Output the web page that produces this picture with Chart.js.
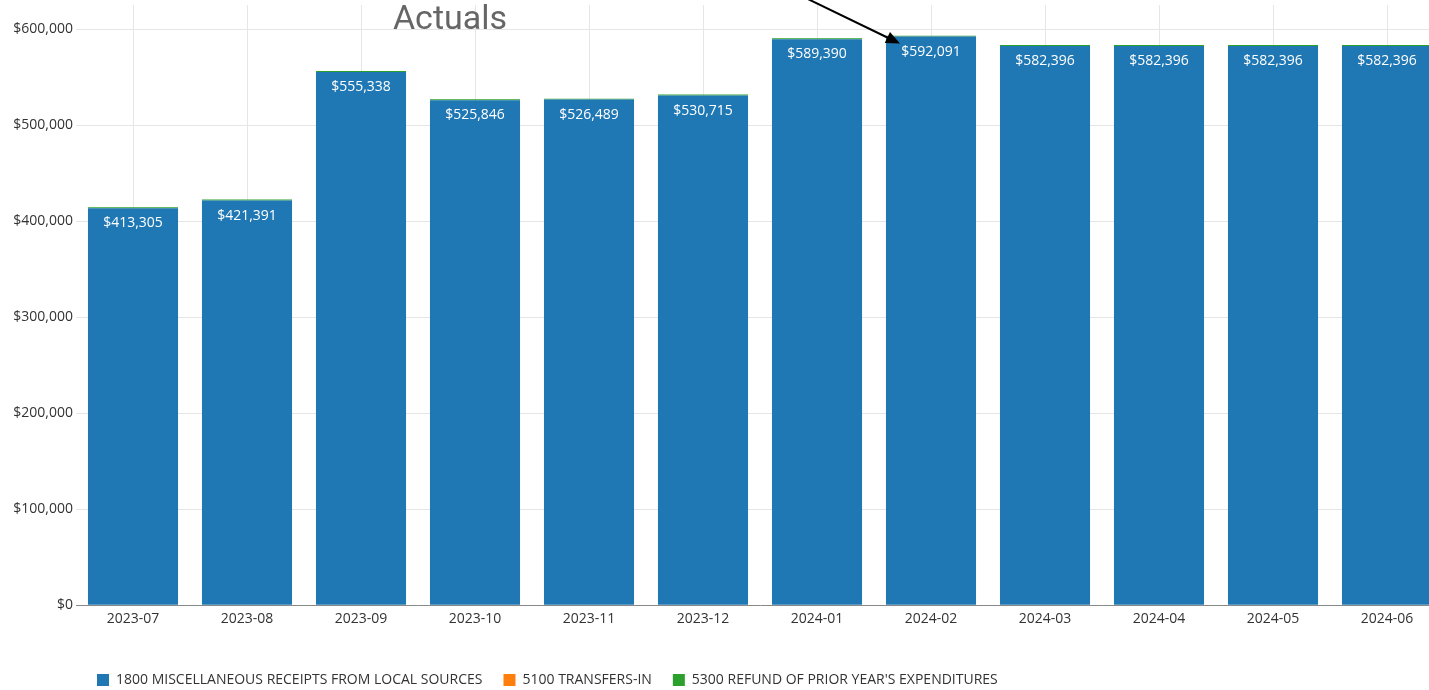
<!DOCTYPE html>
<html>
<head>
<meta charset="utf-8">
<script src="https://cdn.jsdelivr.net/npm/chart.js@4"></script>
<style>
  html, body { margin: 0; padding: 0; background: #fff; overflow: hidden; }
  #wrap { width: 1450px; height: 690px; position: relative; }
</style>
</head>
<body>
<div id="wrap"><canvas id="myChart"></canvas></div>
<script>
const months = ['2023-07', '2023-08', '2023-09', '2023-10', '2023-11', '2023-12',
                '2024-01', '2024-02', '2024-03', '2024-04', '2024-05', '2024-06'];
const miscReceipts = [413305, 421391, 555338, 525846, 526489, 530715,
                      589390, 592091, 582396, 582396, 582396, 582396];
const transfersIn = [0, 0, 0, 0, 0, 0, 0, 0, 0, 0, 0, 0];
const refunds = [1000, 1000, 1000, 1000, 1000, 1000, 1000, 1000, 1000, 1000, 1000, 1000];
const yTicks = [0, 100000, 200000, 300000, 400000, 500000, 600000];
const annotationText = 'Actuals';
const arrowTarget = 7; // index of 2024-02

function money(v) {
    return '$' + v.toLocaleString('en-US');
}

// white value labels inside the top of the blue bars
const barLabels = {
    id: 'barLabels',
    afterDatasetsDraw(chart) {
        const ctx = chart.ctx;
        const meta = chart.getDatasetMeta(0);
        ctx.save();
        ctx.font = '14px "Open Sans"';
        ctx.fillStyle = '#ffffff';
        ctx.textAlign = 'center';
        ctx.textBaseline = 'middle';
        meta.data.forEach((bar, i) => {
            ctx.fillText(money(miscReceipts[i]), bar.x, bar.y + 15);
        });
        ctx.restore();
    }
};

// "Actuals" note with arrow pointing at 2024-02
const actualsNote = {
    id: 'actualsNote',
    afterDraw(chart) {
        const ctx = chart.ctx;
        const x = chart.scales.x;
        const bar = chart.getDatasetMeta(0).data[arrowTarget];
        ctx.save();
        ctx.font = '34px Roboto';
        ctx.fillStyle = '#666666';
        ctx.textAlign = 'center';
        ctx.textBaseline = 'middle';
        ctx.fillText(annotationText, x.getPixelForValue(3) - 25, 20);

        const tx = bar.x - bar.width / 2 + 14;
        const ty = bar.y + 7;
        const sx = tx - 95;
        const sy = ty - 46;
        const ang = Math.atan2(ty - sy, tx - sx);
        ctx.strokeStyle = '#000';
        ctx.fillStyle = '#000';
        ctx.lineWidth = 2;
        ctx.beginPath();
        ctx.moveTo(sx, sy);
        ctx.lineTo(tx - 10 * Math.cos(ang), ty - 10 * Math.sin(ang));
        ctx.stroke();
        ctx.beginPath();
        ctx.moveTo(tx, ty);
        ctx.lineTo(tx - 14 * Math.cos(ang) + 6 * Math.sin(ang), ty - 14 * Math.sin(ang) - 6 * Math.cos(ang));
        ctx.lineTo(tx - 14 * Math.cos(ang) - 6 * Math.sin(ang), ty - 14 * Math.sin(ang) + 6 * Math.cos(ang));
        ctx.closePath();
        ctx.fill();
        ctx.restore();
    }
};

function barChart() {
    const ctx = document.getElementById('myChart').getContext('2d');

    const chart = new Chart(ctx, {
        type: 'bar',
        data: {
            labels: months,
            datasets: [{
                label: '1800 MISCELLANEOUS RECEIPTS FROM LOCAL SOURCES',
                data: miscReceipts,
                backgroundColor: '#1f77b4'
            }, {
                label: '5100 TRANSFERS-IN',
                data: transfersIn,
                backgroundColor: '#ff7f0e'
            }, {
                label: "5300 REFUND OF PRIOR YEAR'S EXPENDITURES",
                data: refunds,
                backgroundColor: '#2ca02c'
            }]
        },
        options: {
            responsive: true,
            maintainAspectRatio: false,
            animation: false,
            categoryPercentage: 0.79,
            barPercentage: 1,
            layout: {
                padding: { top: 5, right: 6, left: 0, bottom: -7 }
            },
            plugins: {
                tooltip: { enabled: false },
                legend: {
                    position: 'bottom',
                    align: 'start',
                    fullSize: false,
                    title: {
                        display: true,
                        text: ' ',
                        font: { size: 20, lineHeight: 1 },
                        padding: 0
                    },
                    labels: {
                        boxWidth: 12,
                        boxHeight: 12,
                        padding: 21,
                        color: '#333',
                        font: { family: '"Open Sans"', size: 14 }
                    }
                }
            },
            scales: {
                x: {
                    stacked: true,
                    grid: {
                        offset: false,
                        color: '#e6e6e6',
                        drawTicks: false
                    },
                    border: { color: '#888' },
                    ticks: {
                        color: '#333',
                        padding: 5,
                        font: { family: '"Open Sans"', size: 14 }
                    }
                },
                y: {
                    stacked: true,
                    min: 0,
                    max: 625000,
                    afterBuildTicks(scale) {
                        scale.ticks = yTicks.map(v => ({ value: v }));
                    },
                    afterFit(scale) {
                        scale.width = 76;
                        scale.paddingTop = 0;
                        scale.paddingBottom = 0;
                    },
                    grid: {
                        color: '#e6e6e6',
                        drawTicks: false
                    },
                    border: { display: false },
                    ticks: {
                        color: '#333',
                        padding: 3,
                        font: { family: '"Open Sans"', size: 14 },
                        callback: v => money(v)
                    }
                }
            }
        },
        plugins: [barLabels, actualsNote]
    });
    return chart;
}

barChart();
</script>
</body>
</html>
